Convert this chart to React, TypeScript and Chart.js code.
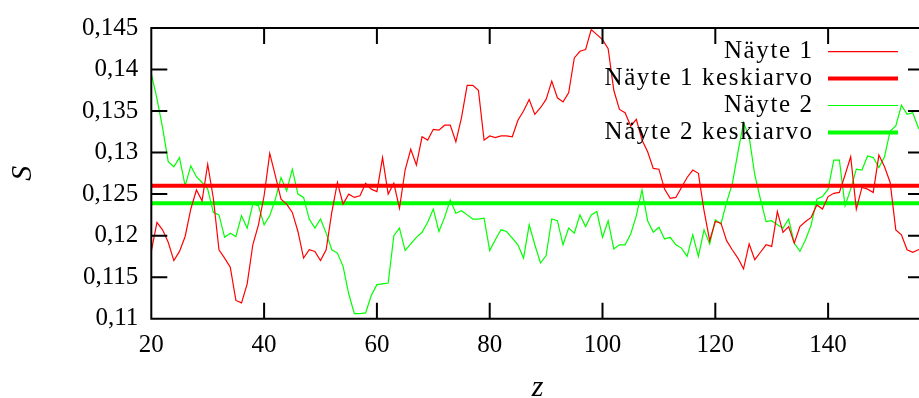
import React, { useEffect, useRef } from "react";
import { Chart, registerables } from "chart.js";

Chart.register(...registerables);

// ---------- data ----------
const zValues = [
  20, 21, 22, 23, 24, 25, 26, 27, 28, 29,
  30, 31, 32, 33, 34, 35, 36, 37, 38, 39,
  40, 41, 42, 43, 44, 45, 46, 47, 48, 49,
  50, 51, 52, 53, 54, 55, 56, 57, 58, 59,
  60, 61, 62, 63, 64, 65, 66, 67, 68, 69,
  70, 71, 72, 73, 74, 75, 76, 77, 78, 79,
  80, 81, 82, 83, 84, 85, 86, 87, 88, 89,
  90, 91, 92, 93, 94, 95, 96, 97, 98, 99,
  100, 101, 102, 103, 104, 105, 106, 107, 108, 109,
  110, 111, 112, 113, 114, 115, 116, 117, 118, 119,
  120, 121, 122, 123, 124, 125, 126, 127, 128, 129,
  130, 131, 132, 133, 134, 135, 136, 137, 138, 139,
  140, 141, 142, 143, 144, 145, 146, 147, 148, 149,
  150, 151, 152, 153, 154, 155, 156, 157,
];

const sample1 = [
  0.1181, 0.1216, 0.1207, 0.1192, 0.1170, 0.1181, 0.1199, 0.1232, 0.1255, 0.1242,
  0.1286, 0.1245, 0.1183, 0.1173, 0.1162, 0.1122, 0.1119, 0.1142, 0.1189, 0.1213,
  0.1248, 0.1299, 0.1272, 0.1244, 0.1238, 0.1228, 0.1205, 0.1173, 0.1183, 0.1181,
  0.1170, 0.1183, 0.1228, 0.1264, 0.1238, 0.1250, 0.1246, 0.1248, 0.1263, 0.1256,
  0.1253, 0.1294, 0.1250, 0.1263, 0.1233, 0.1279, 0.1304, 0.1285, 0.1319, 0.1315,
  0.1328, 0.1327, 0.1333, 0.1333, 0.1313, 0.1342, 0.1381, 0.1381, 0.1375, 0.1315,
  0.1320, 0.1318, 0.1320, 0.1320, 0.1319, 0.1339, 0.1350, 0.1364, 0.1346, 0.1354,
  0.1364, 0.1386, 0.1366, 0.1361, 0.1372, 0.1414, 0.1422, 0.1424, 0.1448, 0.1442,
  0.1436, 0.1425, 0.1375, 0.1352, 0.1348, 0.1332, 0.1340, 0.1315, 0.1301, 0.1281,
  0.1280, 0.1256, 0.1245, 0.1246, 0.1258, 0.1270, 0.1279, 0.1275, 0.1230, 0.1194,
  0.1217, 0.1215, 0.1194, 0.1183, 0.1173, 0.1160, 0.1190, 0.1171, 0.1180, 0.1189,
  0.1187, 0.1229, 0.1204, 0.1211, 0.1191, 0.1211, 0.1217, 0.1222, 0.1237, 0.1232,
  0.1247, 0.1251, 0.1252, 0.1273, 0.1295, 0.1232, 0.1258, 0.1256, 0.1252, 0.1297,
  0.1283, 0.1264, 0.1207, 0.1201, 0.1183, 0.1180, 0.1183, 0.1185,
];

const sample2 = [
  0.1395, 0.1365, 0.1330, 0.1289, 0.1283, 0.1294, 0.1260, 0.1284, 0.1271, 0.1264,
  0.1256, 0.1228, 0.1225, 0.1198, 0.1203, 0.1199, 0.1224, 0.1209, 0.1238, 0.1236,
  0.1213, 0.1224, 0.1244, 0.1270, 0.1254, 0.1280, 0.1250, 0.1246, 0.1220, 0.1209,
  0.1220, 0.1203, 0.1183, 0.1179, 0.1163, 0.1130, 0.1106, 0.1106, 0.1107, 0.1128,
  0.1141, 0.1142, 0.1143, 0.1200, 0.1209, 0.1182, 0.1190, 0.1198, 0.1204, 0.1216,
  0.1232, 0.1205, 0.1222, 0.1243, 0.1227, 0.1230, 0.1225, 0.1220, 0.1220, 0.1221,
  0.1182, 0.1195, 0.1207, 0.1205, 0.1197, 0.1189, 0.1173, 0.1213, 0.1189, 0.1167,
  0.1176, 0.1220, 0.1218, 0.1189, 0.1209, 0.1203, 0.1225, 0.1211, 0.1225, 0.1229,
  0.1198, 0.1218, 0.1184, 0.1189, 0.1189, 0.1202, 0.1224, 0.1255, 0.1218, 0.1204,
  0.1210, 0.1196, 0.1198, 0.1189, 0.1185, 0.1175, 0.1201, 0.1175, 0.1207, 0.1190,
  0.1219, 0.1214, 0.1240, 0.1262, 0.1300, 0.1336, 0.1319, 0.1273, 0.1244, 0.1217,
  0.1218, 0.1213, 0.1209, 0.1220, 0.1191, 0.1181, 0.1195, 0.1213, 0.1244, 0.1247,
  0.1256, 0.1291, 0.1291, 0.1236, 0.1256, 0.1280, 0.1279, 0.1296, 0.1294, 0.1282,
  0.1295, 0.1326, 0.1332, 0.1357, 0.1346, 0.1348, 0.1330, 0.1320,
];

const mean1 = 0.126;
const mean2 = 0.1239;

const xRange = [20, 157];
const yRange = [0.11, 0.145];
const xTicks = [20, 40, 60, 80, 100, 120, 140];
const yTicks = [0.11, 0.115, 0.12, 0.125, 0.13, 0.135, 0.14, 0.145];

const seriesLabels = ["Näyte 1", "Näyte 1 keskiarvo", "Näyte 2", "Näyte 2 keskiarvo"];
const xTitle = "z";
const yTitle = "S";

// ---------- styles ----------
const FONT = "'Liberation Serif', serif";
const FSIZE = 25;
const RED = "#ff0000";
const GREEN = "#00ff00";

const fmt = (v: number) => String(+v.toFixed(3)).replace(".", ",");

const framePlugin = {
  id: "gnuframe",
  afterDatasetsDraw(chart: any) {
    const { ctx, chartArea, scales } = chart;
    const { left, right, top, bottom } = chartArea;
    const xs = scales.x;
    const ys = scales.y;
    ctx.save();
    ctx.strokeStyle = "#000";
    ctx.lineWidth = 2;
    ctx.beginPath();
    ctx.rect(left, top, right - left, bottom - top);
    const L = 16;
    for (const v of xTicks) {
      const px = xs.getPixelForValue(v);
      ctx.moveTo(px, bottom);
      ctx.lineTo(px, bottom - L);
      ctx.moveTo(px, top);
      ctx.lineTo(px, top + L);
    }
    for (const v of yTicks) {
      const py = ys.getPixelForValue(v);
      ctx.moveTo(left, py);
      ctx.lineTo(left + L, py);
      ctx.moveTo(right, py);
      ctx.lineTo(right - L, py);
    }
    ctx.stroke();

    // gnuplot-style key, top right inside the plot
    const spacing = 1.6;
    const textRight = 812 + spacing;
    const sx0 = 828;
    const sx1 = 898;
    const row0 = 51.7;
    const rowH = 26.9;
    ctx.font = `${FSIZE}px ${FONT}`;
    ctx.textAlign = "right";
    ctx.textBaseline = "middle";
    chart.data.datasets.forEach((ds: any, i: number) => {
      const yy = row0 + i * rowH;
      ctx.fillStyle = "#000";
      (ctx as any).letterSpacing = `${spacing}px`;
      ctx.fillText(ds.label, textRight, yy);
      (ctx as any).letterSpacing = "0px";
      ctx.strokeStyle = ds.borderColor;
      ctx.lineWidth = ds.borderWidth;
      ctx.beginPath();
      ctx.moveTo(sx0, yy);
      ctx.lineTo(sx1, yy);
      ctx.stroke();
    });
    ctx.restore();
  },
};

export default function App() {
  const canvasRef = useRef<HTMLCanvasElement | null>(null);

  useEffect(() => {
    const canvas = canvasRef.current;
    if (!canvas) return;
    const pts = (ys: number[]) => zValues.map((z, i) => ({ x: z, y: ys[i] }));
    const flat = (m: number) => [
      { x: xRange[0], y: m },
      { x: xRange[1], y: m },
    ];
    const chart = new Chart(canvas, {
      type: "line",
      data: {
        datasets: [
          { label: seriesLabels[0], data: pts(sample1), borderColor: RED, borderWidth: 1.2, pointRadius: 0, tension: 0 },
          { label: seriesLabels[1], data: flat(mean1), borderColor: RED, borderWidth: 4, pointRadius: 0, tension: 0 },
          { label: seriesLabels[2], data: pts(sample2), borderColor: GREEN, borderWidth: 1.2, pointRadius: 0, tension: 0 },
          { label: seriesLabels[3], data: flat(mean2), borderColor: GREEN, borderWidth: 4, pointRadius: 0, tension: 0 },
        ],
      },
      options: {
        animation: false,
        responsive: false,
        devicePixelRatio: 1,
        layout: { padding: { top: 21.7, right: 6, bottom: 0, left: 0 } },
        plugins: { legend: { display: false }, tooltip: { enabled: false } },
        scales: {
          x: {
            type: "linear",
            min: xRange[0],
            max: xRange[1],
            grid: { display: false, drawTicks: false },
            border: { display: false },
            afterBuildTicks: (s: any) => {
              s.ticks = xTicks.map((v) => ({ value: v }));
            },
            afterFit: (s: any) => {
              s.height = 398 - 318.7;
            },
            ticks: {
              padding: 12,
              color: "#000",
              font: { family: FONT, size: FSIZE },
              maxRotation: 0,
              autoSkip: false,
              callback: (v: any) => String(v),
            },
            title: {
              display: true,
              text: xTitle,
              color: "#000",
              font: { family: FONT, size: 30, style: "italic", lineHeight: 1 },
              padding: { top: 0, bottom: -5 },
            },
          },
          y: {
            type: "linear",
            min: yRange[0],
            max: yRange[1],
            grid: { display: false, drawTicks: false },
            border: { display: false },
            afterBuildTicks: (s: any) => {
              s.ticks = yTicks.map((v) => ({ value: v }));
            },
            afterFit: (s: any) => {
              s.width = 151.3;
            },
            ticks: {
              padding: 13,
              color: "#000",
              font: { family: FONT, size: FSIZE },
              autoSkip: false,
              callback: (v: any) => fmt(Number(v)),
            },
            title: {
              display: true,
              text: yTitle,
              color: "#000",
              font: { family: FONT, size: 30, style: "italic", lineHeight: 1 },
              padding: { top: 8, bottom: 0 },
            },
          },
        },
      },
      plugins: [framePlugin],
    } as any);
    return () => chart.destroy();
  }, []);

  return (
    <div
      style={{
        position: "absolute",
        left: 0,
        top: 0,
        width: 919,
        height: 398,
        overflow: "hidden",
        background: "#fff",
      }}
    >
      <canvas ref={canvasRef} width={930} height={398} style={{ display: "block", width: 930, height: 398 }} />
    </div>
  );
}
